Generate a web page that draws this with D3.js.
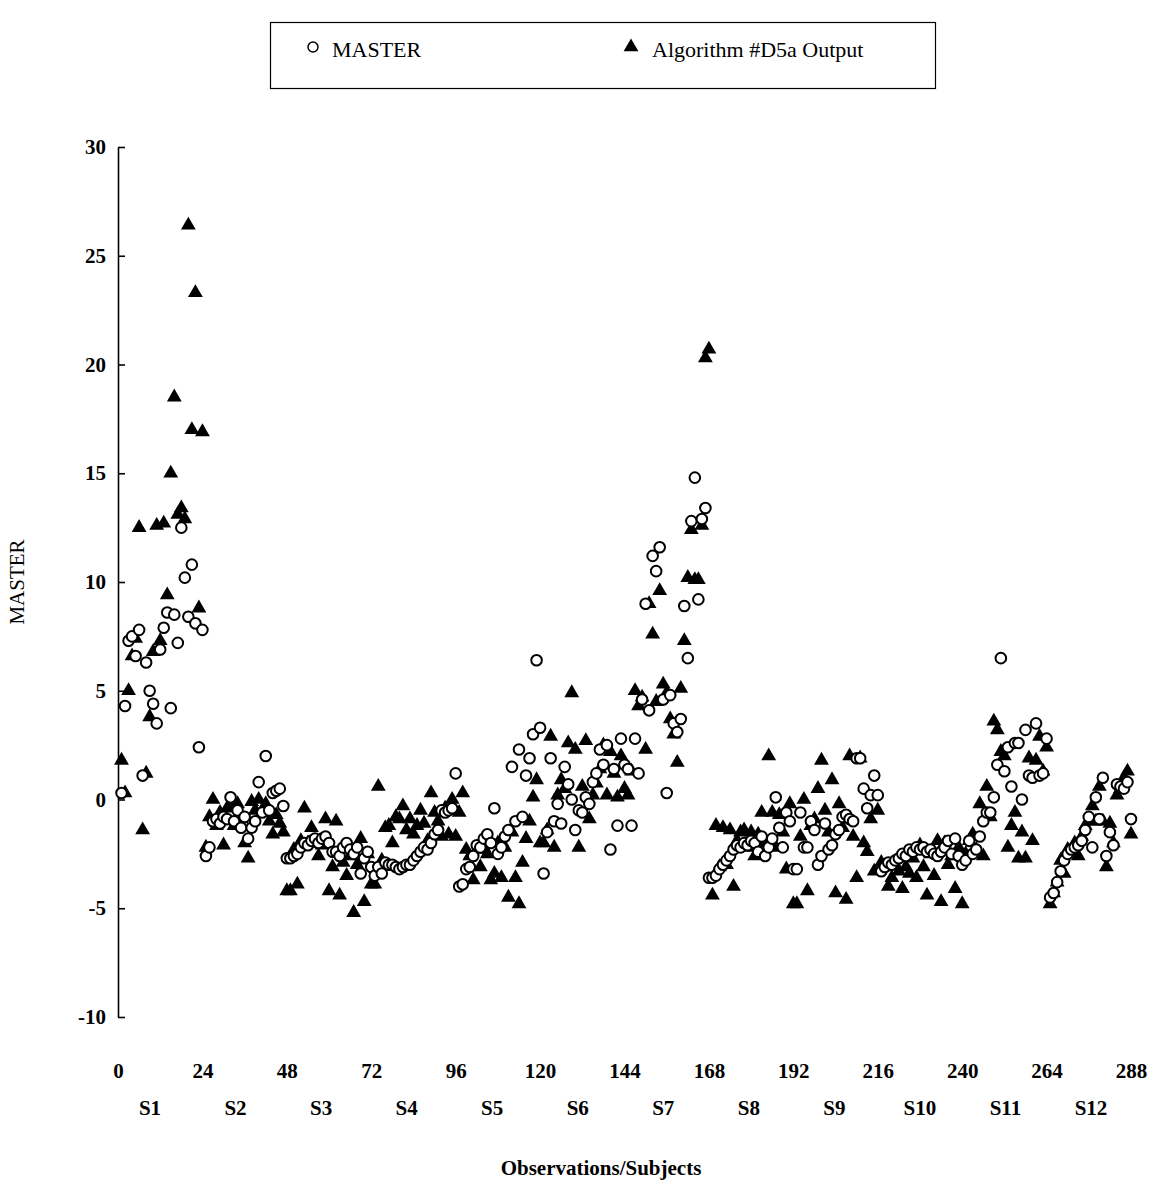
<!DOCTYPE html>
<html>
<head>
<meta charset="utf-8">
<script src="https://cdn.jsdelivr.net/npm/d3@7"></script>
<style>
  body { margin: 0; background: #fff; }
  svg { display: block; }
  text { font-family: "Liberation Serif", "Times New Roman", serif; fill: #000; }
</style>
</head>
<body>
<svg id="chart" width="1162" height="1186"></svg>
<script>
// Observations are numbered 1..288, 24 per subject (S1..S12)
const subjects = ["S1","S2","S3","S4","S5","S6","S7","S8","S9","S10","S11","S12"];
const xTicks = [0,24,48,72,96,120,144,168,192,216,240,264,288];
const yTicks = [-10,-5,0,5,10,15,20,25,30];

// MASTER values, one row per subject
const master = [
  [0.3,4.3,7.3,7.5,6.6,7.8,1.1,6.3,5.0,4.4,3.5,6.9,7.9,8.6,4.2,8.5,7.2,12.5,10.2,8.4,10.8,8.1,2.4,7.8],
  [-2.6,-2.2,-1.0,-0.9,-1.1,-0.8,-0.9,0.1,-1.0,-0.5,-1.3,-0.8,-1.8,-1.3,-1.0,0.8,-0.6,2.0,-0.5,0.3,0.4,0.5,-0.3,-2.7],
  [-2.7,-2.6,-2.5,-2.2,-2.0,-2.1,-1.9,-1.8,-2.0,-1.8,-1.7,-2.0,-2.4,-2.4,-2.6,-2.2,-2.0,-2.3,-2.5,-2.2,-3.4,-2.7,-2.4,-3.1],
  [-3.5,-3.1,-3.4,-2.9,-3.0,-3.0,-3.1,-3.2,-3.1,-3.0,-3.0,-2.8,-2.6,-2.4,-2.2,-2.3,-2.0,-1.6,-1.4,-0.5,-0.6,-0.5,-0.4,1.2],
  [-4.0,-3.9,-3.2,-3.1,-2.6,-2.1,-2.2,-1.8,-1.6,-2.0,-0.4,-2.5,-2.2,-1.7,-1.4,1.5,-1.0,2.3,-0.8,1.1,1.9,3.0,6.4,3.3],
  [-3.4,-1.5,1.9,-1.0,-0.2,-1.1,1.5,0.7,0.0,-1.4,-0.5,-0.6,0.1,-0.2,0.8,1.2,2.3,1.6,2.5,-2.3,1.4,-1.2,2.8,1.6],
  [1.4,-1.2,2.8,1.2,4.6,9.0,4.1,11.2,10.5,11.6,4.6,0.3,4.8,3.5,3.1,3.7,8.9,6.5,12.8,14.8,9.2,12.9,13.4,-3.6],
  [-3.6,-3.5,-3.2,-3.0,-2.8,-2.6,-2.3,-2.1,-2.2,-2.0,-2.1,-1.9,-2.0,-2.4,-1.7,-2.6,-2.2,-1.8,0.1,-1.3,-2.2,-0.6,-1.0,-3.2],
  [-3.2,-0.6,-2.2,-2.2,-1.0,-1.4,-3.0,-2.6,-1.1,-2.3,-2.1,-1.6,-1.4,-0.8,-0.7,-0.9,-1.0,1.9,1.9,0.5,-0.4,0.2,1.1,0.2],
  [-3.3,-3.1,-2.9,-3.0,-2.8,-2.7,-2.5,-2.6,-2.3,-2.4,-2.2,-2.3,-2.2,-2.4,-2.3,-2.5,-2.6,-2.4,-2.2,-1.9,-2.5,-1.8,-2.6,-3.0],
  [-2.8,-1.9,-2.5,-2.3,-1.7,-1.0,-0.6,-0.6,0.1,1.6,6.5,1.3,2.4,0.6,2.6,2.6,0.0,3.2,1.1,1.0,3.5,1.1,1.2,2.8],
  [-4.5,-4.3,-3.8,-3.3,-2.8,-2.5,-2.3,-2.2,-2.1,-1.9,-1.4,-0.8,-2.2,0.1,-0.9,1.0,-2.6,-1.5,-2.1,0.7,0.6,0.5,0.8,-0.9]
];

// Algorithm #D5a output values, one row per subject
const algorithm = [
  [1.8,0.3,5.0,6.6,7.4,12.5,-1.4,1.2,3.8,6.8,12.6,7.3,12.7,9.4,15.0,18.5,13.1,13.4,12.9,26.4,17.0,23.3,8.8,16.9],
  [-2.2,-0.8,0.0,-1.2,-0.6,-2.1,-0.4,-0.3,-1.2,-0.2,-0.9,-2.0,-2.7,-0.1,-0.5,0.0,-0.6,-0.2,-1.0,-1.6,-0.7,-1.1,-1.5,-4.2],
  [-4.2,-2.3,-3.9,-1.9,-0.4,-2.0,-1.3,-2.0,-2.6,-2.1,-0.9,-4.2,-3.1,-1.0,-4.4,-2.9,-3.5,-2.6,-5.2,-3.0,-1.8,-4.7,-2.5,-3.9],
  [-3.9,0.6,-2.8,-1.3,-1.2,-2.0,-0.8,-0.9,-0.3,-1.4,-0.9,-1.6,-1.2,-0.5,-1.1,-1.9,0.3,-0.6,-1.0,-1.7,-0.4,-1.6,0.0,-1.7],
  [-0.6,0.3,-2.3,-2.6,-3.7,-2.3,-3.1,-2.2,-2.5,-3.7,-3.4,-2.0,-3.6,-2.2,-4.5,-1.5,-3.6,-4.8,-2.9,-1.8,-1.0,0.1,0.9,-2.0],
  [-2.0,-1.4,2.9,-2.2,0.2,0.9,0.5,2.6,4.9,2.3,-2.2,0.6,2.7,-0.9,0.2,0.75,1.4,2.5,0.2,2.2,1.2,0.1,2.0,0.5],
  [0.2,1.3,5.0,4.3,4.7,2.3,9.0,7.6,4.5,9.6,5.3,4.9,3.7,3.0,1.7,5.1,7.3,10.2,12.4,10.1,10.1,12.6,20.3,20.7],
  [-4.4,-1.2,-3.1,-1.3,-3.0,-1.4,-4.0,-1.9,-1.5,-1.4,-2.2,-1.5,-2.6,-1.6,-0.6,-2.0,2.0,-0.6,-2.2,-0.7,-1.5,-3.2,-0.2,-4.8],
  [-4.8,-1.7,0.0,-4.2,-1.2,-0.9,0.5,1.8,-0.5,-1.5,0.9,-4.3,-0.2,-1.3,-4.6,2.0,-1.7,-3.6,1.9,-2.0,-2.4,-0.9,-3.3,-0.5],
  [-2.9,-3.1,-4.0,-3.6,-3.0,-3.3,-4.1,-3.1,-3.4,-2.7,-3.6,-2.1,-3.1,-4.4,-2.5,-3.5,-1.9,-4.7,-2.0,-3.0,-2.6,-4.1,-2.2,-4.8],
  [-2.5,-1.9,-1.6,-2.3,-0.2,-2.6,0.6,-0.8,3.6,3.2,2.2,2.0,-2.2,-1.2,-0.6,-2.7,-1.5,-2.7,1.9,-1.9,1.8,2.9,1.3,2.4],
  [-4.8,-4.3,-3.8,-2.8,-3.4,-2.3,-2.4,-2.0,-2.6,-1.7,-1.2,-1.0,-0.3,-1.0,0.6,-1.0,-3.1,-1.1,-2.0,0.2,0.5,1.0,1.3,-1.6]
];

const svg = d3.select("#chart");

const x = d3.scaleLinear().domain([0, 288]).range([118, 1131]);
const y = d3.scaleLinear().domain([-10, 30]).range([1017, 147]);
const sx = d3.scaleLinear().domain([1, 12]).range([150, 1091]);

// flatten to (observation, value) points
const toPoints = rows => rows.flatMap((row, s) => row.map((v, i) => ({ obs: s * 24 + i + 1, v })));
const masterPts = toPoints(master);
const algoPts = toPoints(algorithm);

const plain = d => String(d);   // ASCII hyphen for negatives

// y axis (ticks point into the plot)
const yAxis = svg.append("g")
  .attr("transform", `translate(${x(0)},0)`)
  .call(d3.axisLeft(y).tickValues(yTicks).tickFormat(plain).tickSize(-7).tickSizeOuter(0).tickPadding(12));
yAxis.select(".domain").attr("stroke", "#000").attr("stroke-width", 1.6);
yAxis.selectAll(".tick line").attr("stroke", "#000").attr("stroke-width", 1.6);
yAxis.selectAll(".tick text")
  .style("font-family", '"Liberation Serif", serif')
  .style("font-size", "21px").style("font-weight", "bold").attr("fill", "#000");

// x axis labels only
const xAxis = svg.append("g")
  .attr("transform", `translate(0,${y(-10)})`)
  .call(d3.axisBottom(x).tickValues(xTicks).tickFormat(plain).tickSize(0).tickPadding(46));
xAxis.select(".domain").remove();
xAxis.selectAll(".tick text")
  .style("font-family", '"Liberation Serif", serif')
  .style("font-size", "21px").style("font-weight", "bold").attr("fill", "#000");

// subject labels
svg.append("g").selectAll("text").data(subjects).join("text")
  .attr("x", (d, i) => sx(i + 1))
  .attr("y", 1115)
  .attr("text-anchor", "middle")
  .style("font-size", "21px").style("font-weight", "bold")
  .text(d => d);

// axis titles
svg.append("text")
  .attr("transform", "translate(24,582) rotate(-90)")
  .attr("text-anchor", "middle")
  .style("font-size", "21px")
  .text("MASTER");
svg.append("text")
  .attr("x", 601).attr("y", 1175)
  .attr("text-anchor", "middle")
  .style("font-size", "21px").style("font-weight", "bold")
  .text("Observations/Subjects");

// markers
const tri = d3.symbol().type(d3.symbolTriangle).size(95);

svg.append("g").selectAll("path").data(algoPts).join("path")
  .attr("d", tri)
  .attr("transform", d => `translate(${x(d.obs)},${y(d.v)})`)
  .attr("fill", "#000");

svg.append("g").selectAll("circle").data(masterPts).join("circle")
  .attr("cx", d => x(d.obs))
  .attr("cy", d => y(d.v))
  .attr("r", 5.3)
  .attr("fill", "#fff")
  .attr("stroke", "#000")
  .attr("stroke-width", 2);

// legend
const legend = svg.append("g");
legend.append("rect")
  .attr("x", 270.5).attr("y", 22.5).attr("width", 665).attr("height", 66)
  .attr("fill", "none").attr("stroke", "#000").attr("stroke-width", 1.2);
legend.append("circle")
  .attr("cx", 313).attr("cy", 47).attr("r", 5)
  .attr("fill", "#fff").attr("stroke", "#000").attr("stroke-width", 1.5);
legend.append("text").attr("x", 332).attr("y", 57)
  .style("font-size", "22px").text("MASTER");
legend.append("path").attr("d", tri)
  .attr("transform", "translate(631,47)").attr("fill", "#000");
legend.append("text").attr("x", 652).attr("y", 57)
  .style("font-size", "22px").text("Algorithm #D5a Output");
</script>
</body>
</html>
